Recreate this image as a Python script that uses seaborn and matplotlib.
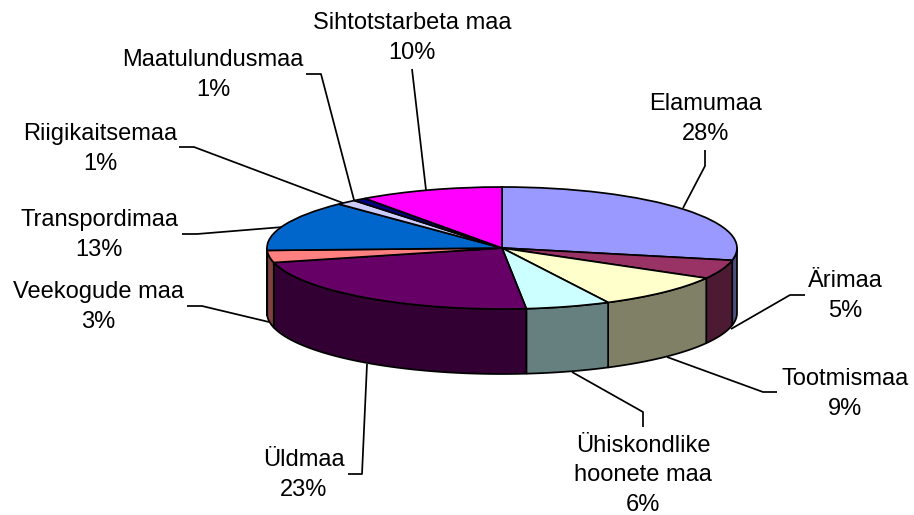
import numpy as np
import matplotlib
matplotlib.use("Agg")
import matplotlib.pyplot as plt
import seaborn as sns

# Data
categories = ["Elamumaa", "Ärimaa", "Tootmismaa", "Ühiskondlike\nhoonete maa", "Üldmaa",
              "Veekogude maa", "Transpordimaa", "Riigikaitsemaa", "Maatulundusmaa",
              "Sihtotstarbeta maa"]
shares = [28.2, 5.0, 9.3, 5.8, 22.8, 3.2, 13.4, 1.4, 0.9, 9.9]
share_labels = ["28%", "5%", "9%", "6%", "23%", "3%", "13%", "1%", "1%", "10%"]

# Styles
top_colors = ["#9999FF", "#993366", "#FFFFCC", "#CCFFFF", "#660066",
              "#FF8080", "#0066CC", "#CCCCFF", "#000080", "#FF00FF"]

# Layout, in pixels of the 914x515 picture
W, H = 914, 515
CX, CY, RX, RY, DEPTH = 502, 248, 235, 61, 65
label_anchor = [(706, 140), (845, 317), (845, 415), (643, 511), (304, 496),
                (98, 328), (99, 256), (100, 170), (213, 96), (412, 59)]
leaders = [
    [(705, 150), (705, 166), (683, 208)],
    [(805, 295), (790, 295), (731, 329)],
    [(777, 392), (763, 392), (667, 357)],
    [(643, 427), (643, 412), (572, 372)],
    [(348, 474), (362, 474), (367, 364)],
    [(187, 306), (202, 306), (269, 322)],
    [(182, 234), (197, 234), (283, 227)],
    [(179, 147), (194, 147), (343, 203)],
    [(306, 74), (321, 74), (354, 200)],
    [(412, 69), (426, 190)],
]

sns.set_theme(style="white")
plt.rcParams["font.family"] = ["Liberation Sans", "DejaVu Sans"]


def to_data(x, y):
    return (x - CX) / RX, (CY - y) / RY


fig = plt.figure(figsize=(W / 100, H / 100), dpi=100, facecolor="white")
ax = fig.add_axes([0, 0, 1, 1])

LW = 1.25
ax.pie(shares, colors=top_colors, startangle=90, counterclock=False, radius=1,
       wedgeprops={"edgecolor": "black", "linewidth": LW, "zorder": 3})
ax.set_aspect("auto")
ax.set_xlim(to_data(0, 0)[0], to_data(W, 0)[0])
ax.set_ylim(to_data(0, H)[1], to_data(0, 0)[1])
ax.axis("off")

# Side walls of the front half of the disc
edges = np.cumsum([0] + shares) / np.sum(shares) * 360
for a, b, col in zip(edges[:-1], edges[1:], top_colors):
    lo, hi = max(a, 90), min(b, 270)
    if lo >= hi:
        continue
    t = np.radians(np.linspace(lo, hi, 80))
    xs, ys = np.sin(t), np.cos(t)
    drop = DEPTH / RY
    px = np.concatenate([xs, xs[::-1]])
    py = np.concatenate([ys, ys[::-1] - drop])
    shade = tuple(0.5 * c for c in matplotlib.colors.to_rgb(col))
    ax.fill(px, py, facecolor=shade, edgecolor="black", linewidth=LW, zorder=2,
            joinstyle="round")

# Leader lines
for pts in leaders:
    d = np.array([to_data(*p) for p in pts])
    ax.plot(d[:, 0], d[:, 1], color="black", lw=LW, zorder=1, solid_capstyle="butt")

# Labels
for cat, lab, (x, y) in zip(categories, share_labels, label_anchor):
    dx, dy = to_data(x, y)
    ax.text(dx, dy, f"{cat}\n{lab}", ha="center", va="baseline", multialignment="center",
            fontsize=17, color="black", linespacing=1.45, zorder=5)

fig.savefig("out.png", dpi=100, facecolor="white")
